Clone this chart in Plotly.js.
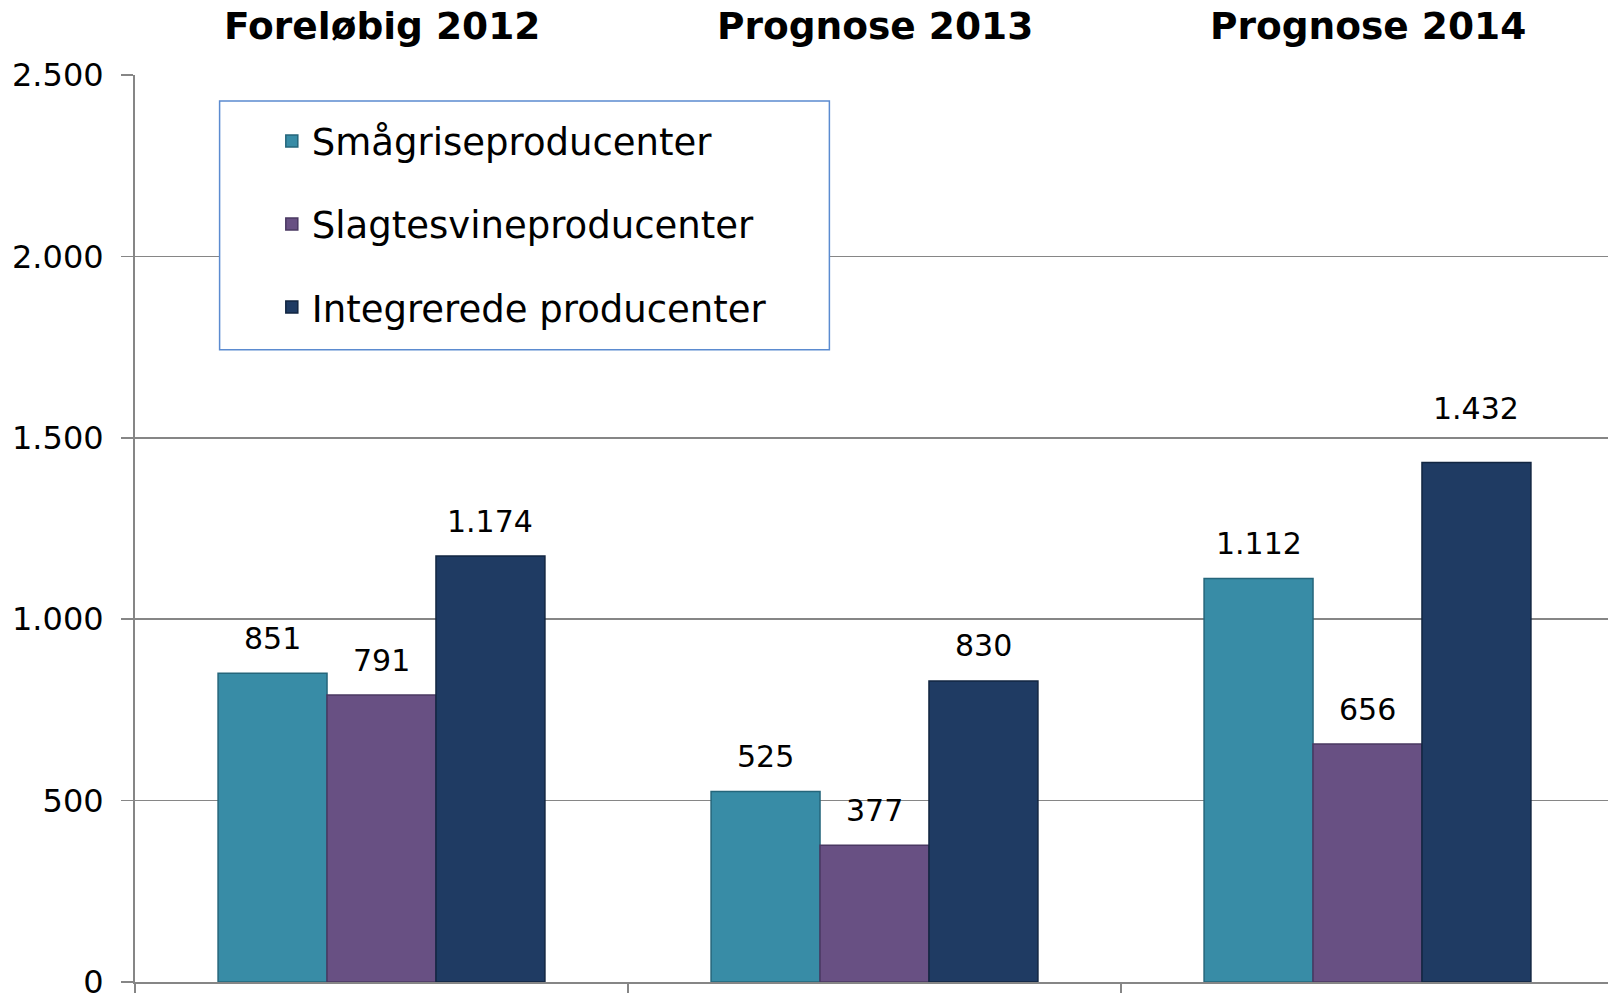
<html>
<head>
    <meta charset="utf-8">
    <title>Producenter</title>
    <script src="https://cdn.plot.ly/plotly-3.0.1.min.js"></script>
    <style type="text/css">
        body {margin:0; padding:0; overflow:hidden; background:#fff}
        #chart {width:1616px; height:993px}
    </style>
</head>
<body>
    <div id="chart"></div>
    <script>
        // categories and series
        var years = ['Foreløbig 2012', 'Prognose 2013', 'Prognose 2014'];
        var seriesNames = ['Smågriseproducenter', 'Slagtesvineproducenter', 'Integrerede producenter'];
        var smaagrise = [851, 525, 1112];
        var slagtesvin = [791, 377, 656];
        var integrerede = [1174, 830, 1432];
        var yTicks = [0, 500, 1000, 1500, 2000, 2500];

        var colors = ['#388ca6', '#685083', '#1f3b63'];
        var edges = ['#25667b', '#4a3862', '#122641'];
        var values = [smaagrise, slagtesvin, integrerede];

        var BARGAP = 0.337;
        var barW = (1 - BARGAP) / values.length;

        var traces = [];
        for (var s = 0; s < values.length; s++) {
            traces.push({
                type: 'bar',
                name: seriesNames[s],
                x: years,
                y: values[s],
                legendgroup: 'g' + s,
                marker: {color: colors[s], line: {color: edges[s], width: 1.5}},
                hoverinfo: 'skip'
            });
        }

        function fmt(v) {
            return v.toLocaleString('da-DK');
        }

        var annotations = [];
        // value labels above each bar
        for (var s = 0; s < values.length; s++) {
            for (var i = 0; i < years.length; i++) {
                var lift = 35;
                if (s == 2 && i == 2) { lift = 54; }  // this one sits higher in the original
                annotations.push({
                    x: i + (s - 1) * barW,
                    y: values[s][i],
                    xref: 'x', yref: 'y',
                    text: fmt(values[s][i]),
                    showarrow: false,
                    yanchor: 'middle',
                    yshift: lift,
                    font: {family: 'DejaVu Sans', size: 30, color: '#000'}
                });
            }
        }
        // category headers above the plot
        for (var i = 0; i < years.length; i++) {
            annotations.push({
                x: i, y: 1,
                xref: 'x', yref: 'paper',
                text: '<b>' + years[i] + '</b>',
                showarrow: false,
                yanchor: 'middle',
                yshift: 49,
                font: {family: 'DejaVu Sans', size: 37.5, color: '#000'}
            });
        }

        var layout = {
            width: 1616,
            height: 993,
            margin: {l: 135, r: 2, t: 75, b: 11},
            paper_bgcolor: '#fff',
            plot_bgcolor: '#fff',
            separators: ',.',
            barmode: 'group',
            bargap: BARGAP,
            bargroupgap: 0,
            showlegend: true,
            legend: {
                x: 0.0925, xanchor: 'left',
                y: 0.961, yanchor: 'top',
                bgcolor: 'rgba(0,0,0,0)',
                borderwidth: 0,
                tracegroupgap: 32,
                traceorder: 'grouped',
                font: {family: 'DejaVu Sans', size: 37, color: '#000'}
            },
            xaxis: {
                type: 'category',
                tickson: 'boundaries',
                ticks: 'outside',
                ticklen: 12,
                tickwidth: 1.5,
                tickcolor: '#868686',
                showticklabels: false,
                showgrid: false,
                showline: true,
                linecolor: '#868686',
                linewidth: 2,
                fixedrange: true
            },
            yaxis: {
                range: [0, 2500],
                tickvals: yTicks,
                tickformat: ',d',
                ticks: 'outside',
                ticklen: 12,
                tickwidth: 1.5,
                tickcolor: '#868686',
                ticklabelstandoff: 11,
                ticklabeloverflow: 'allow',
                showline: true,
                linecolor: '#868686',
                linewidth: 2,
                gridcolor: '#868686',
                gridwidth: 1.5,
                zeroline: false,
                tickfont: {family: 'DejaVu Sans', size: 32, color: '#000'},
                fixedrange: true
            },
            shapes: [
                // legend frame
                {type: 'rect', xref: 'paper', yref: 'paper',
                 x0: 0.0572, x1: 0.4695, y0: 0.6971, y1: 0.9713,
                 line: {color: '#5b8bd0', width: 1.5}, fillcolor: '#fff', layer: 'above'}
            ],
            annotations: annotations
        };

        Plotly.newPlot('chart', traces, layout, {displayModeBar: false, staticPlot: true});
    </script>
</body>
</html>
